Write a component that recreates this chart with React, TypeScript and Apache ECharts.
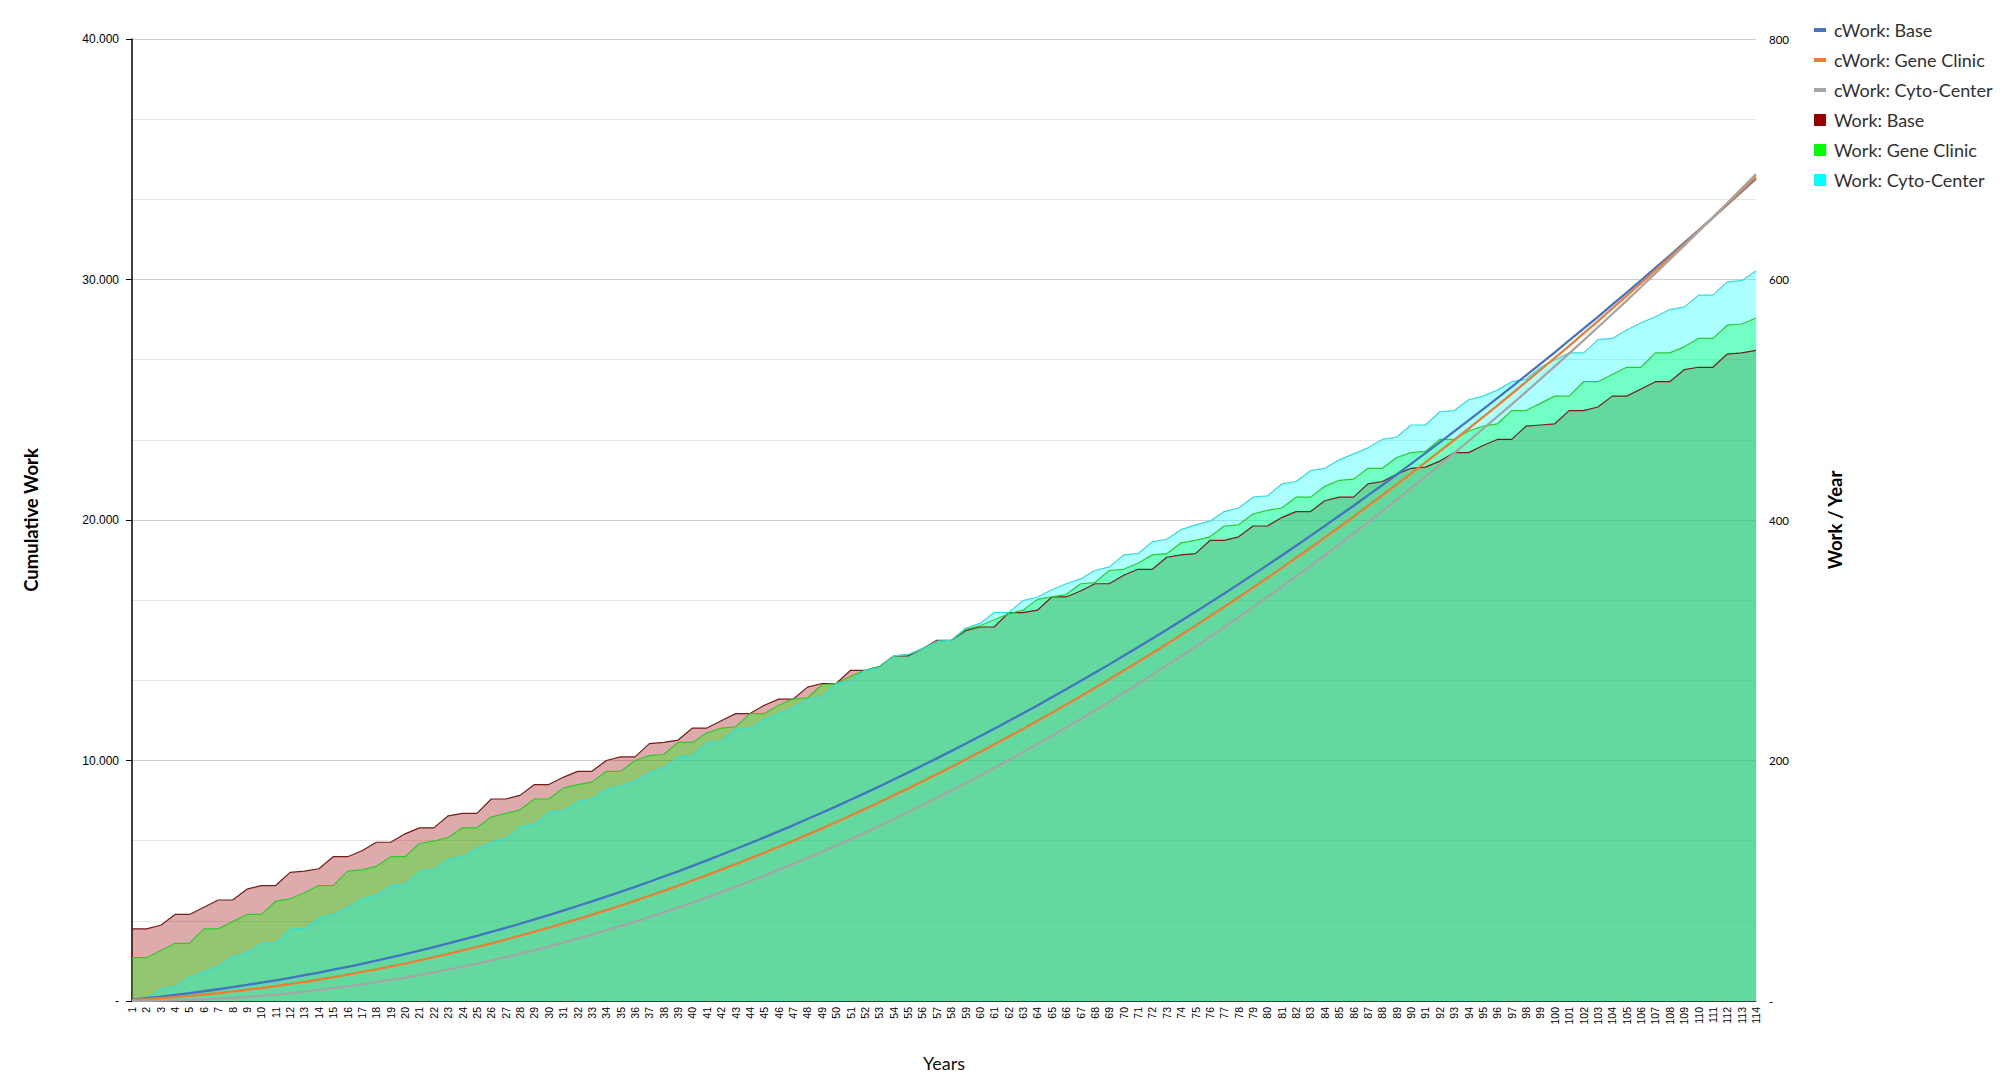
import React, { useEffect, useRef } from 'react';
import * as echarts from 'echarts';

// year labels 1..114
const years = Array.from({ length: 114 }, (_, i) => String(i + 1));

// work per year (right axis)
const workBase = [
  60, 60, 63, 72, 72, 78, 84, 84, 93, 96,
  96, 107, 108, 110, 120, 120, 125, 132, 132, 139,
  144, 144, 154, 156, 156, 168, 168, 171, 180, 180,
  186, 191, 191, 200, 203, 203, 214, 215, 217, 227,
  227, 233, 239, 239, 246, 251, 251, 261, 264, 264,
  275, 275, 278, 287, 287, 293, 300, 300, 308, 311,
  311, 323, 323, 325, 336, 336, 341, 347, 347, 354,
  359, 359, 369, 371, 372, 383, 383, 386, 395, 395,
  402, 407, 407, 416, 419, 419, 430, 432, 438, 443,
  444, 449, 456, 456, 462, 467, 467, 478, 479, 480,
  491, 491, 494, 503, 503, 509, 515, 515, 525, 527,
  527, 538, 539, 541,
];
const workGene = [
  36, 36, 42, 48, 48, 60, 60, 66, 72, 72,
  83, 85, 90, 96, 96, 108, 109, 112, 120, 120,
  131, 133, 136, 144, 144, 153, 156, 159, 168, 168,
  177, 180, 182, 191, 191, 200, 204, 205, 215, 215,
  223, 227, 228, 239, 239, 246, 251, 252, 263, 264,
  270, 275, 278, 287, 288, 293, 299, 300, 309, 312,
  317, 322, 325, 334, 336, 338, 347, 348, 358, 359,
  364, 371, 372, 381, 383, 386, 395, 396, 405, 408,
  410, 419, 419, 428, 433, 434, 443, 443, 452, 456,
  457, 467, 467, 474, 478, 480, 491, 491, 497, 503,
  503, 515, 515, 521, 527, 527, 539, 539, 544, 551,
  551, 562, 563, 568,
];
const workCyto = [
  0, 2, 10, 12, 20, 24, 29, 37, 40, 48,
  48, 60, 60, 69, 72, 78, 85, 88, 96, 97,
  108, 109, 118, 120, 127, 132, 135, 145, 147, 157,
  158, 166, 168, 176, 179, 183, 190, 194, 203, 204,
  215, 216, 226, 227, 234, 239, 244, 251, 253, 264,
  266, 275, 277, 287, 288, 293, 299, 300, 310, 314,
  323, 323, 333, 336, 342, 347, 351, 358, 361, 371,
  372, 382, 384, 392, 396, 399, 407, 410, 419, 420,
  430, 432, 441, 443, 450, 455, 460, 467, 469, 479,
  479, 490, 491, 500, 503, 508, 515, 517, 527, 533,
  539, 539, 550, 551, 558, 564, 569, 575, 577, 587,
  587, 598, 599, 607,
];

// cumulative work (left axis)
const cWorkBase = [
  60, 120, 183, 255, 327, 405, 489, 573, 666, 762,
  858, 965, 1073, 1183, 1303, 1423, 1548, 1680, 1812, 1951,
  2095, 2239, 2393, 2549, 2705, 2873, 3041, 3212, 3392, 3572,
  3758, 3949, 4140, 4340, 4543, 4746, 4960, 5175, 5392, 5619,
  5846, 6079, 6318, 6557, 6803, 7054, 7305, 7566, 7830, 8094,
  8369, 8644, 8922, 9209, 9496, 9789, 10089, 10389, 10697, 11008,
  11319, 11642, 11965, 12290, 12626, 12962, 13303, 13650, 13997, 14351,
  14710, 15069, 15438, 15809, 16181, 16564, 16947, 17333, 17728, 18123,
  18525, 18932, 19339, 19755, 20174, 20593, 21023, 21455, 21893, 22336,
  22780, 23229, 23685, 24141, 24603, 25070, 25537, 26015, 26494, 26974,
  27465, 27956, 28450, 28953, 29456, 29965, 30480, 30995, 31520, 32047,
  32574, 33112, 33651, 34192,
];
const cWorkGene = [
  36, 72, 114, 162, 210, 270, 330, 396, 468, 540,
  623, 708, 798, 894, 990, 1098, 1207, 1319, 1439, 1559,
  1690, 1823, 1959, 2103, 2247, 2400, 2556, 2715, 2883, 3051,
  3228, 3408, 3590, 3781, 3972, 4172, 4376, 4581, 4796, 5011,
  5234, 5461, 5689, 5928, 6167, 6413, 6664, 6916, 7179, 7443,
  7713, 7988, 8266, 8553, 8841, 9134, 9433, 9733, 10042, 10354,
  10671, 10993, 11318, 11652, 11988, 12326, 12673, 13021, 13379, 13738,
  14102, 14473, 14845, 15226, 15609, 15995, 16390, 16786, 17191, 17599,
  18009, 18428, 18847, 19275, 19708, 20142, 20585, 21028, 21480, 21936,
  22393, 22860, 23327, 23801, 24279, 24759, 25250, 25741, 26238, 26741,
  27244, 27759, 28274, 28795, 29322, 29849, 30388, 30927, 31471, 32022,
  32573, 33135, 33698, 34266,
];
const cWorkCyto = [
  0, 2, 12, 24, 44, 68, 97, 134, 174, 222,
  270, 330, 390, 459, 531, 609, 694, 782, 878, 975,
  1083, 1192, 1310, 1430, 1557, 1689, 1824, 1969, 2116, 2273,
  2431, 2597, 2765, 2941, 3120, 3303, 3493, 3687, 3890, 4094,
  4309, 4525, 4751, 4978, 5212, 5451, 5695, 5946, 6199, 6463,
  6729, 7004, 7281, 7568, 7856, 8149, 8448, 8748, 9058, 9372,
  9695, 10018, 10351, 10687, 11029, 11376, 11727, 12085, 12446, 12817,
  13189, 13571, 13955, 14347, 14743, 15142, 15549, 15959, 16378, 16798,
  17228, 17660, 18101, 18544, 18994, 19449, 19909, 20376, 20845, 21324,
  21803, 22293, 22784, 23284, 23787, 24295, 24810, 25327, 25854, 26387,
  26926, 27465, 28015, 28566, 29124, 29688, 30257, 30832, 31409, 31996,
  32583, 33181, 33780, 34387,
];

const lineIcon = 'path://M0,0h12v4h-12z';

const thousands = (v: number) =>
  v === 0 ? '-' : String(v).replace(/\B(?=(\d{3})+(?!\d))/g, '.');

export default function App() {
  const chartRef = useRef(null);

  useEffect(() => {
    document.body.style.margin = '0';
    const myChart = echarts.init(chartRef.current, null, { renderer: 'svg' });

    const area = (name: string, data: number[], color: string, line: string) => ({
      name,
      type: 'line',
      yAxisIndex: 1,
      data,
      symbol: 'none',
      color,
      lineStyle: { color: line, width: 1.2 },
      areaStyle: { color, opacity: 0.33 },
    });
    const cum = (name: string, data: number[], color: string) => ({
      name,
      type: 'line',
      yAxisIndex: 0,
      data,
      symbol: 'none',
      color,
      lineStyle: { color, width: 2.3 },
    });

    const option = {
      animation: false,
      grid: { left: 132, right: 259, top: 39, bottom: 89 },
      legend: {
        orient: 'vertical',
        left: 1809,
        top: 15,
        itemWidth: 12,
        itemHeight: 12,
        itemGap: 10,
        textStyle: { fontFamily: 'Lato', fontSize: 18, color: '#303030', lineHeight: 20, padding: [0, 0, 0, 3] },
        data: [
          { name: 'cWork: Base', icon: lineIcon },
          { name: 'cWork: Gene Clinic', icon: lineIcon },
          { name: 'cWork: Cyto-Center', icon: lineIcon },
          { name: 'Work: Base', icon: 'rect' },
          { name: 'Work: Gene Clinic', icon: 'rect' },
          { name: 'Work: Cyto-Center', icon: 'rect' },
        ],
      },
      xAxis: {
        type: 'category',
        data: years,
        boundaryGap: false,
        axisLine: { lineStyle: { color: '#404040', width: 1 } },
        axisTick: { show: false },
        axisLabel: {
          interval: 0,
          rotate: 90,
          margin: 6,
          fontFamily: 'Liberation Sans',
          fontSize: 10.5,
          color: '#000',
        },
        name: 'Years',
        nameLocation: 'middle',
        nameGap: 53,
        nameTextStyle: { fontFamily: 'Lato', fontSize: 18, color: '#111' },
      },
      yAxis: [
        {
          type: 'value',
          min: 0,
          max: 40000,
          interval: 10000,
          position: 'left',
          axisLine: { show: true, lineStyle: { color: '#000', width: 1.5 } },
          axisTick: { show: true, length: 6, lineStyle: { color: '#000' } },
          axisLabel: {
            margin: 13,
            fontFamily: 'Liberation Sans',
            fontSize: 12,
            color: '#000',
            formatter: thousands,
          },
          splitLine: { lineStyle: { color: '#cfcfcf' } },
          minorTick: { show: false, splitNumber: 3 },
          minorSplitLine: { show: true, lineStyle: { color: '#e6e6e6' } },
          name: 'Cumulative Work',
          nameLocation: 'middle',
          nameGap: 92,
          nameRotate: 90,
          nameTextStyle: { fontFamily: 'Lato', fontWeight: 'bold', fontSize: 18.5, color: '#000' },
        },
        {
          type: 'value',
          min: 0,
          max: 800,
          interval: 200,
          position: 'right',
          axisLine: { show: false },
          axisTick: { show: false },
          splitLine: { show: false },
          axisLabel: {
            margin: 13,
            fontFamily: 'Lato',
            fontSize: 11.5,
            color: '#000',
            formatter: (v: number) => (v === 0 ? '-' : String(v)),
          },
          name: 'Work / Year',
          nameLocation: 'middle',
          nameGap: 69,
          nameRotate: 90,
          nameTextStyle: { fontFamily: 'Lato', fontWeight: 'bold', fontSize: 18.5, color: '#000' },
        },
      ],
      series: [
        area('Work: Base', workBase, '#990000', '#7a1a1a'),
        area('Work: Gene Clinic', workGene, '#00ff00', '#2ccc2c'),
        area('Work: Cyto-Center', workCyto, '#00ffff', '#2fdede'),
        cum('cWork: Base', cWorkBase, '#4472c4'),
        cum('cWork: Gene Clinic', cWorkGene, '#ed7d31'),
        cum('cWork: Cyto-Center', cWorkCyto, '#a5a5a5'),
      ],
    };

    myChart.setOption(option);

    return () => {
      myChart.dispose();
    };
  }, []);

  return <div ref={chartRef} style={{ width: '2015px', height: '1090px' }}></div>;
}
